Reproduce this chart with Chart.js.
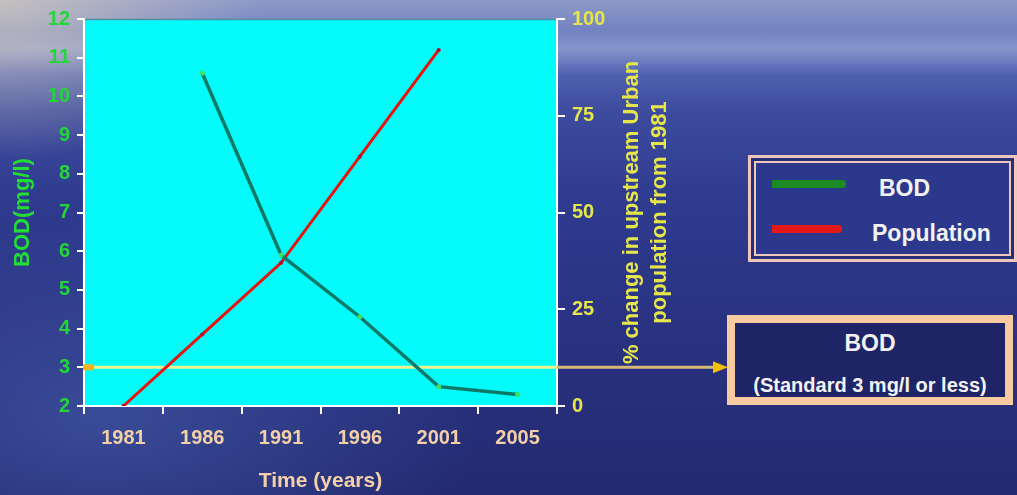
<!DOCTYPE html>
<html>
<head>
<meta charset="utf-8">
<title>BOD and upstream urban population</title>
<script src="https://cdn.jsdelivr.net/npm/chart.js@4.4.1/dist/chart.umd.min.js"></script>
<style>
  html, body { margin: 0; padding: 0; }
  body {
    width: 1017px; height: 495px; overflow: hidden; position: relative;
    font-family: "Liberation Sans", Arial, sans-serif;
    background:
      radial-gradient(ellipse 260px 160px at 0% 0%, rgba(215,205,190,0.75), rgba(215,205,190,0) 100%),
      linear-gradient(to bottom, rgba(255,255,255,0) 30px, rgba(200,210,235,0.35) 48px, rgba(255,255,255,0) 75px),
      radial-gradient(ellipse 380px 200px at 10% 85%, rgba(80,110,190,0.45), rgba(80,110,190,0) 100%),
      linear-gradient(to bottom, #8d9ac8 0%, #6f7fc0 7%, #5567b4 13%, #3d4c9e 22%, #2f3b8f 40%, #2a3382 65%, #232a70 100%);
  }
  #chart { position: absolute; left: 0; top: 0; }
  .legend-box {
    position: absolute; left: 748px; top: 155px; width: 263px; height: 101px;
    border: 3px solid #f0c6ba; background: #262f78;
  }
  .legend-inner {
    position: absolute; left: 3px; top: 3px; right: 3px; bottom: 3px;
    border: 2px solid #f0c6ba; background: #2c388c;
  }
  .legend-item { position: absolute; left: 0; height: 30px; width: 100%; }
  .legend-swatch { position: absolute; left: 16px; top: 7px; height: 8px; border-radius: 0 4px 4px 0; }
  .legend-label { position: absolute; top: 0; line-height: 30px; font-size: 23px; font-weight: bold; color: #f2f2f2; }
  .standard-box {
    position: absolute; left: 727px; top: 315px; width: 270px; height: 74px;
    border: 8px solid #f8caa2; background: #1e2466; color: #f2f2f2; font-weight: bold; text-align: center;
  }
  .standard-title { position: absolute; left: 0; right: 0; top: 7px; font-size: 23px; line-height: 26px; }
  .standard-note { position: absolute; left: 0; right: 0; top: 51px; font-size: 20px; line-height: 22px; white-space: nowrap; }
</style>
</head>
<body>
<canvas id="chart" width="1017" height="495"></canvas>

<div class="legend-box">
  <div class="legend-inner">
    <div class="legend-item" style="top:10px;">
      <div class="legend-swatch" style="width:74px; background:#1b8c24;"></div>
      <div class="legend-label" style="left:123px;">BOD</div>
    </div>
    <div class="legend-item" style="top:55px;">
      <div class="legend-swatch" style="width:70px; background:#e41a1a;"></div>
      <div class="legend-label" style="left:116px;">Population</div>
    </div>
  </div>
</div>

<div class="standard-box">
  <div class="standard-title">BOD</div>
  <div class="standard-note">(Standard 3 mg/l or less)</div>
</div>

<script>
// Survey years on the horizontal axis
const years = ['1981', '1986', '1991', '1996', '2001', '2005'];
// BOD measured downstream (mg/l); no sample in 1981
const bodValues = [null, 10.6, 5.9, 4.3, 2.5, 2.3];
// % change in upstream urban population relative to 1981
const populationChange = [0, 18.5, 37, 64.5, 92, null];
// BOD standard (mg/l)
const bodStandard = 3;
// Axis ranges
const bodAxisRange = [2, 12, 1];
const populationAxisRange = [0, 100, 25];
// Right-hand axis title, two lines
const populationAxisTitle = ['% change in upstream Urban', 'population from 1981'];

Chart.defaults.font.family = '"Liberation Sans", Arial, sans-serif';
Chart.defaults.font.weight = 'bold';

const plotFrame = {
  id: 'plotFrame',
  beforeDraw(chart) {
    const { ctx, chartArea: a } = chart;
    ctx.save();
    ctx.fillStyle = '#03fbfb';
    ctx.fillRect(a.left, a.top, a.right - a.left, a.bottom - a.top);
    ctx.strokeStyle = '#4f8fa4';
    ctx.lineWidth = 1.5;
    ctx.beginPath();
    ctx.moveTo(a.left, a.top + 0.5);
    ctx.lineTo(a.right, a.top + 0.5);
    ctx.stroke();
    ctx.restore();
  },
  beforeDatasetsDraw(chart) {
    // BOD standard line with arrow pointing at the note box
    const { ctx, chartArea: a, scales } = chart;
    const y = scales.y.getPixelForValue(bodStandard);
    ctx.save();
    ctx.lineWidth = 3;
    ctx.strokeStyle = '#eef48c';
    ctx.beginPath();
    ctx.moveTo(a.left, y);
    ctx.lineTo(a.right, y);
    ctx.stroke();
    ctx.strokeStyle = '#d6b977';
    ctx.beginPath();
    ctx.moveTo(a.right, y);
    ctx.lineTo(716, y);
    ctx.stroke();
    ctx.fillStyle = '#f2c000';
    ctx.beginPath();
    ctx.moveTo(713, y - 6);
    ctx.lineTo(728, y);
    ctx.lineTo(713, y + 6);
    ctx.closePath();
    ctx.fill();
    ctx.fillStyle = '#f4b21c';
    ctx.fillRect(a.left - 1, y - 3, 11, 6);
    ctx.restore();
  },
  afterDraw(chart) {
    const { ctx, chartArea: a } = chart;
    const cy = (a.top + a.bottom) / 2;
    ctx.save();
    ctx.translate(646, cy);
    ctx.rotate(-Math.PI / 2);
    ctx.fillStyle = '#e6e64a';
    ctx.font = 'bold 22px "Liberation Sans", Arial, sans-serif';
    ctx.textAlign = 'center';
    ctx.textBaseline = 'middle';
    ctx.fillText(populationAxisTitle[0], 0, -14);
    ctx.fillText(populationAxisTitle[1], 0, 14);
    ctx.restore();
  }
};

new Chart(document.getElementById('chart'), {
  type: 'line',
  data: {
    labels: years,
    datasets: [
      {
        label: 'BOD',
        data: bodValues,
        yAxisID: 'y',
        borderColor: '#0c7a66',
        borderWidth: 3.5,
        pointRadius: 2.5,
        pointBackgroundColor: '#3ee060',
        pointBorderWidth: 0,
        tension: 0
      },
      {
        label: 'Population',
        data: populationChange,
        yAxisID: 'y1',
        borderColor: '#e8120e',
        borderWidth: 3,
        pointRadius: 2,
        pointBackgroundColor: '#c0002a',
        pointBorderWidth: 0,
        tension: 0
      }
    ]
  },
  options: {
    responsive: false,
    animation: false,
    devicePixelRatio: 1,
    layout: { padding: { left: 0, top: 18, right: 400, bottom: 0 } },
    plugins: { legend: { display: false }, tooltip: { enabled: false } },
    scales: {
      x: {
        type: 'category',
        offset: true,
        afterFit(scale) { scale.height = 89; },
        grid: { offset: true, drawOnChartArea: false, color: '#ffffff', lineWidth: 2, tickLength: 8 },
        border: { color: '#ffffff', width: 2 },
        ticks: { color: '#f4d0a8', font: { size: 20, weight: 'bold' }, padding: 12, maxRotation: 0 },
        title: {
          display: true, text: 'Time (years)', color: '#f4d0a8',
          font: { size: 21, weight: 'bold' }, padding: { top: 0, bottom: 1 }
        }
      },
      y: {
        position: 'left',
        min: bodAxisRange[0], max: bodAxisRange[1],
        afterFit(scale) { scale.width = 84; },
        grid: { drawOnChartArea: false, color: '#ffffff', lineWidth: 2, tickLength: 7 },
        border: { color: '#ffffff', width: 2 },
        ticks: { stepSize: bodAxisRange[2], color: '#22d63a', font: { size: 20, weight: 'bold' }, padding: 7 },
        title: {
          display: true, text: 'BOD(mg/l)', color: '#22dd33',
          font: { size: 22, weight: 'bold' }, padding: { top: 10, bottom: 0 }
        }
      },
      y1: {
        position: 'right',
        min: populationAxisRange[0], max: populationAxisRange[1],
        afterFit(scale) { scale.width = 60; },
        grid: { drawOnChartArea: false, color: '#ffffff', lineWidth: 2, tickLength: 8 },
        border: { color: '#ffffff', width: 2 },
        ticks: { stepSize: populationAxisRange[2], color: '#e6e64a', font: { size: 20, weight: 'bold' }, padding: 7 }
      }
    }
  },
  plugins: [plotFrame]
});
</script>
</body>
</html>
